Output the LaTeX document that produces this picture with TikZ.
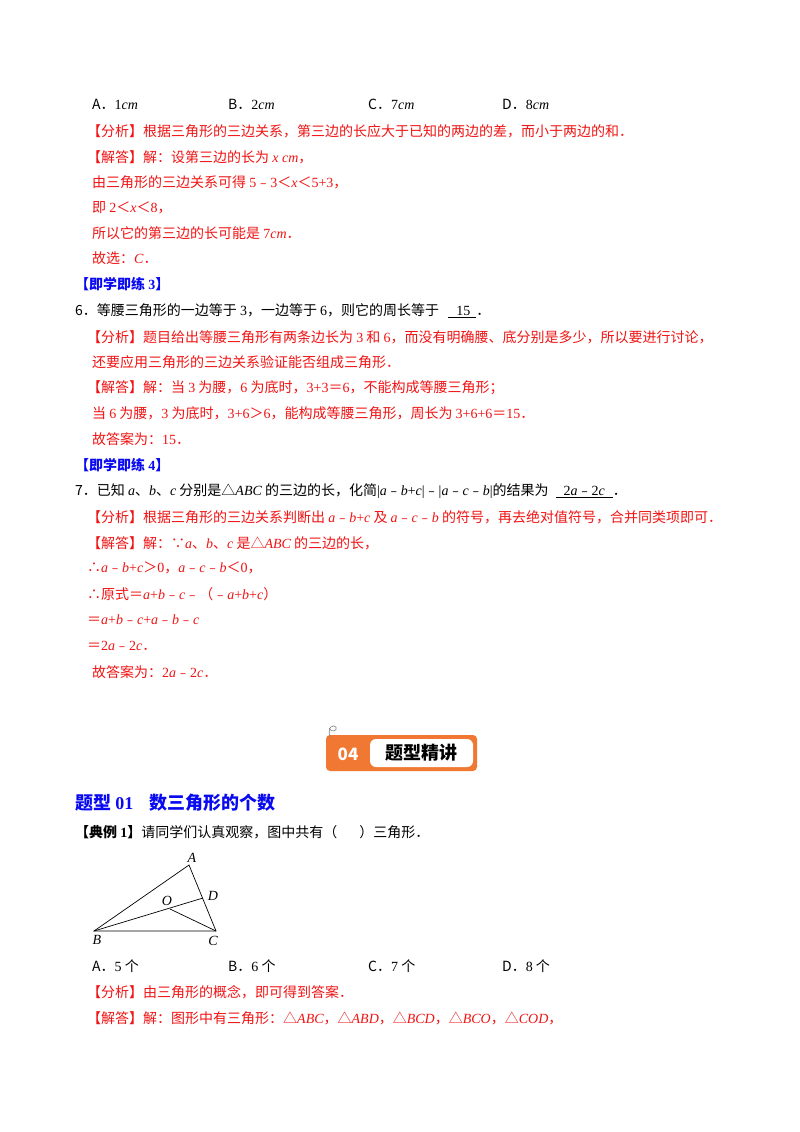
\documentclass[tikz,border=0pt]{standalone}
\usepackage{fontspec}
\setmainfont{Noto Sans CJK SC}
\newfontfamily\serif{Liberation Serif}
\newcommand{\I}[1]{{\serif\itshape #1}}
\newcommand{\R}[1]{{\serif #1}}
\newcommand{\M}{{\normalfont ﹣}}
\definecolor{ans}{RGB}{240,20,20}
\definecolor{blu}{RGB}{10,10,240}
\definecolor{org}{RGB}{240,120,50}
\begin{document}
\begin{tikzpicture}[x=1pt,y=-1pt,
  txt/.style={anchor=west,inner sep=0pt,font=\fontsize{14}{16}\selectfont},
  red/.style={txt,text=ans},
  head/.style={txt,text=blu,font=\fontsize{14}{16}\selectfont\bfseries},
  lab/.style={inner sep=0pt,font=\fontsize{14}{16}\selectfont\serif\itshape}]
\path[fill=white] (0,0) rectangle (800,1132);
\useasboundingbox (0,0) rectangle (800,1132);
\node[txt] (a1) at (92,104) {A．\R{1}\I{cm}};
\node[txt] (b1) at (228,104) {B．\R{2}\I{cm}};
\node[txt] (c1) at (368,104) {C．\R{7}\I{cm}};
\node[txt] (d1) at (502,104) {D．\R{8}\I{cm}};
\node[red] (l1) at (87,131) {【分析】根据三角形的三边关系，第三边的长应大于已知的两边的差，而小于两边的和．};
\node[red] (l2) at (87,157) {【解答】解：设第三边的长为 \I{x cm}，};
\node[red] (l3) at (92,182) {由三角形的三边关系可得 \R{5}\M\R{3}＜\I{x}＜\R{5+3}，};
\node[red] (l4) at (92,208) {即 \R{2}＜\I{x}＜\R{8}，};
\node[red] (l5) at (92,233) {所以它的第三边的长可能是 \R{7}\I{cm}．};
\node[red] (l6) at (92,258) {故选：\I{C}．};
\node[head] (h3) at (75,284) {【即学即练 \R{\bfseries 3}】};
\node[txt] (q6) at (75,311) {6．等腰三角形的一边等于 \R{3}，一边等于 \R{6}，则它的周长等于 \rule[-2pt]{6pt}{0pt}\underline{\hspace{8pt}\R{15}\hspace{6pt}}．};
\node[red] (m1) at (87,337) {【分析】题目给出等腰三角形有两条边长为 \R{3} 和 \R{6}，而没有明确腰、底分别是多少，所以要进行讨论，};
\node[red] (m2) at (92,362) {还要应用三角形的三边关系验证能否组成三角形．};
\node[red] (m3) at (87,388) {【解答】解：当 \R{3} 为腰，\R{6} 为底时，\R{3+3}＝\R{6}，不能构成等腰三角形；};
\node[red] (m4) at (92,413) {当 \R{6} 为腰，\R{3} 为底时，\R{3+6}＞\R{6}，能构成等腰三角形，周长为 \R{3+6+6}＝\R{15}．};
\node[red] (m5) at (92,439) {故答案为：\R{15}．};
\node[head] (h4) at (75,465) {【即学即练 \R{\bfseries 4}】};
\node[txt] (q7) at (75,491) {7．已知 \I{a}、\I{b}、\I{c} 分别是△\I{ABC} 的三边的长，化简\R{|}\I{a}\M\I{b}\R{+}\I{c}\R{|}\M\R{|}\I{a}\M\I{c}\M\I{b}\R{|}的结果为 \rule{4pt}{0pt}\underline{\hspace{8pt}\R{2}\I{a}\M\R{2}\I{c}\hspace{8pt}}．};
\node[red] (n1) at (87,517) {【分析】根据三角形的三边关系判断出 \I{a}\M\I{b}\R{+}\I{c} 及 \I{a}\M\I{c}\M\I{b} 的符号，再去绝对值符号，合并同类项即可．};
\node[red] (n2) at (87,543) {【解答】解：∵\I{a}、\I{b}、\I{c} 是△\I{ABC} 的三边的长，};
\node[red] (n3) at (87,568) {∴\I{a}\M\I{b}\R{+}\I{c}＞\R{0}，\I{a}\M\I{c}\M\I{b}＜\R{0}，};
\node[red] (n4) at (87,594) {∴原式＝\I{a}\R{+}\I{b}\M\I{c}\M（\M\I{a}\R{+}\I{b}\R{+}\I{c}）};
\node[red] (n5) at (87,620) {＝\I{a}\R{+}\I{b}\M\I{c}\R{+}\I{a}\M\I{b}\M\I{c}};
\node[red] (n6) at (87,646) {＝\R{2}\I{a}\M\R{2}\I{c}．};
\node[red] (n7) at (92,672) {故答案为：\R{2}\I{a}\M\R{2}\I{c}．};
% badge
\fill[org,rounded corners=4pt] (326,735) rectangle (477,771);
\fill[white,rounded corners=6pt] (370,739) rectangle (473,767);
\node[inner sep=0pt,text=white,font=\fontsize{17}{19}\selectfont\bfseries] (b04) at (348,754) {04};
\node[inner sep=0pt,font=\fontsize{18}{20}\selectfont\bfseries] (bt) at (421,753) {题型精讲};
\draw[gray,line width=0.6pt] (330,737) .. controls (327,727) and (333,724) .. (336,727) .. controls (338,731) and (331,733) .. (329,728);
% heading
\node[txt,text=blu,font=\fontsize{18}{20}\selectfont\bfseries] (h01) at (75,803) {题型 \R{\bfseries 01}\hspace{16pt}数三角形的个数};
\node[txt] (ex) at (75,832) {{\bfseries 【典例 \R{\bfseries 1}】}请同学们认真观察，图中共有（\hspace{22pt}）三角形．};
% triangle
\coordinate (A) at (189,865);
\coordinate (B) at (94,931);
\coordinate (C) at (216,931);
\coordinate (D) at (203,898);
\coordinate (O) at (170,909);
\draw[line width=0.7pt] (A) -- (B) -- (C) -- cycle;
\draw[line width=0.7pt] (B) -- (D);
\draw[line width=0.7pt] (O) -- (C);
\node[lab] (lA) at (192,858) {A};
\node[lab] (lB) at (97,940) {B};
\node[lab] (lC) at (213,941) {C};
\node[lab] (lD) at (213,896) {D};
\node[lab] (lO) at (167,901) {O};
\node[txt] (a2) at (92,966) {A．\R{5} 个};
\node[txt] (b2) at (228,966) {B．\R{6} 个};
\node[txt] (c2) at (368,966) {C．\R{7} 个};
\node[txt] (d2) at (502,966) {D．\R{8} 个};
\node[red] (p1) at (87,992) {【分析】由三角形的概念，即可得到答案．};
\node[red] (p2) at (87,1018) {【解答】解：图形中有三角形：△\I{ABC}，△\I{ABD}，△\I{BCD}，△\I{BCO}，△\I{COD}，};
\end{tikzpicture}
\end{document}
